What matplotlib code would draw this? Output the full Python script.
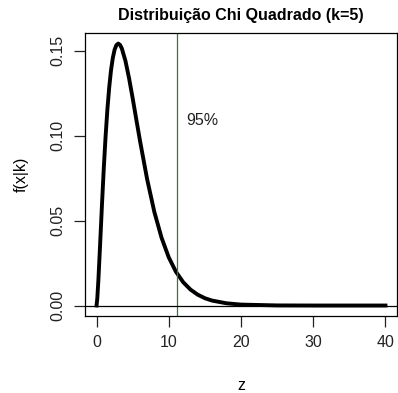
import matplotlib
matplotlib.use("Agg")
import matplotlib.pyplot as plt

# density of chi-square with k=5
z = [0, 0.1, 0.25, 0.5, 0.75, 1, 1.25, 1.5, 1.75, 2, 2.25, 2.5, 2.75, 3, 3.25,
     3.5, 4, 4.5, 5, 5.5, 6, 7, 8, 9, 10,
     11, 12, 13, 14, 15, 16, 18, 20, 25, 30, 35, 40]
fz = [0, 0.0040, 0.0147, 0.0366, 0.0594, 0.0807, 0.0995, 0.1154, 0.1283, 0.1384,
      0.1457, 0.1506, 0.1533, 0.1542, 0.1534,
      0.1513, 0.1440, 0.1338, 0.1220, 0.1096, 0.0973, 0.0744, 0.0551, 0.0399, 0.0283,
      0.0198, 0.0137, 0.0094, 0.0064, 0.0043, 0.0029, 0.0013, 0.00054,
      0.00006, 0.0, 0.0, 0.0]
q95 = 11.07
x_ticks = [0, 10, 20, 30, 40]
y_ticks = [0.00, 0.05, 0.10, 0.15]

plt.rcParams['font.family'] = ['Liberation Sans', 'DejaVu Sans']

fig = plt.figure(figsize=(3.98, 3.93), dpi=100)
ax = fig.add_axes([85/398, 1 - 316/393, 312/398, 283/393])

ax.plot(z, fz, color='black', lw=2.8, solid_joinstyle='round')
ax.axvline(q95, color='#2e7d32', lw=0.9)
ax.axhline(0, color='black', lw=0.9)
ax.text(14.6, 0.109, '95%', ha='center', va='center', fontsize=11.5, color='#222222')

ax.set_xlim(-1.6, 41.6)
ax.set_ylim(-0.00617, 0.1604)
ax.set_xticks(x_ticks)
ax.set_xticklabels([str(t) for t in x_ticks])
ax.set_yticks(y_ticks)
ax.set_yticklabels(['%.2f' % t for t in y_ticks], rotation=90, va='center')
ax.tick_params(direction='out', length=8, width=0.9, labelsize=11.5, pad=6, colors='#222222')
for s in ax.spines.values():
    s.set_linewidth(0.9)

ax.set_xlabel('z', fontsize=11.5, labelpad=20)
ax.set_ylabel('f(x|k)', fontsize=11.5, labelpad=16)
ax.set_title('Distribuição Chi Quadrado (k=5)', fontsize=11.5, fontweight='bold', pad=9)

fig.savefig('out.png', dpi=100)
